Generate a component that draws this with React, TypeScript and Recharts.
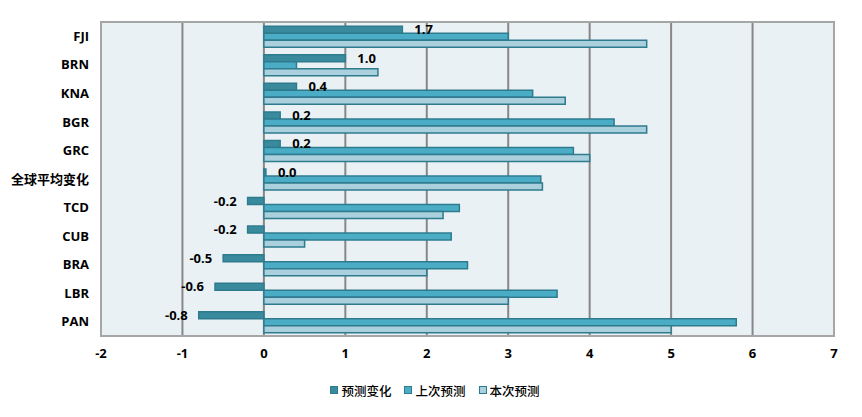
import {
  Bar,
  BarChart,
  CartesianGrid,
  LabelList,
  Legend,
  ReferenceArea,
  XAxis,
  YAxis,
} from "recharts";

const categories = ["FJI", "BRN", "KNA", "BGR", "GRC", "全球平均变化", "TCD", "CUB", "BRA", "LBR", "PAN"];
const changeValues = [1.7, 1.0, 0.4, 0.2, 0.2, 0.0, -0.2, -0.2, -0.5, -0.6, -0.8];
const previousValues = [3.0, 0.4, 3.3, 4.3, 3.8, 3.4, 2.4, 2.3, 2.5, 3.6, 5.8];
const currentValues = [4.7, 1.4, 3.7, 4.7, 4.0, 3.42, 2.2, 0.5, 2.0, 3.0, 5.0];
const xTicks = [-2, -1, 0, 1, 2, 3, 4, 5, 6, 7];

const data = categories.map((name, i) => ({
  name,
  change: changeValues[i],
  previous: previousValues[i],
  current: currentValues[i],
}));

const FONT = '"Open Sans", "Noto Sans CJK SC", sans-serif';
const STROKE = "#2E7B8E";

const SERIES = [
  { key: "change", name: "预测变化", color: "#3A8A9E" },
  { key: "previous", name: "上次预测", color: "#4BACC6" },
  { key: "current", name: "本次预测", color: "#A9D0DC" },
];

// 正值标签放在柱右侧，负值放在左侧
const ChangeLabel = (props: any) => {
  const { x, y, width, height, value } = props;
  const a = Number(x);
  const b = Number(x) + Number(width);
  const positive = Number(value) >= 0;
  const end = positive ? Math.max(a, b) : Math.min(a, b);
  return (
    <text
      x={positive ? end + 12 : end - 11}
      y={Number(y) + Number(height) / 2}
      dy={1}
      textAnchor={positive ? "start" : "end"}
      dominantBaseline="middle"
      fontFamily={FONT}
      fontSize={13}
      fontWeight={700}
      fill="#000"
    >
      {Number(value).toFixed(1)}
    </text>
  );
};

const LegendContent = () => (
  <div
    style={{
      display: "flex",
      justifyContent: "center",
      gap: 13,
      height: 20,
      alignItems: "center",
      paddingLeft: 36,
    }}
  >
    {SERIES.map((s) => (
      <div key={s.key} style={{ display: "flex", alignItems: "center", gap: 3 }}>
        <span
          style={{
            width: 6,
            height: 6,
            background: s.color,
            border: `1.5px solid ${STROKE}`,
            display: "inline-block",
          }}
        />
        <span style={{ color: "#000", fontSize: 12.5, fontFamily: FONT, fontWeight: 500 }}>{s.name}</span>
      </div>
    ))}
  </div>
);

export default function App() {
  return (
    <div style={{ position: "absolute", left: 0, top: 0, background: "#fff" }}>
      <BarChart
        width={862}
        height={417}
        data={data}
        layout="vertical"
        margin={{ top: 22, right: 28, left: 0, bottom: 17 }}
        barCategoryGap="15%"
        barGap={0}
      >
        <CartesianGrid
          horizontal={false}
          fill="#E9F1F5"
          stroke="#878787"
          strokeWidth={2}
          verticalValues={[-1, 0, 1, 2, 3, 4, 5, 6]}
        />
        <XAxis
          type="number"
          domain={[-2, 7]}
          ticks={xTicks}
          interval={0}
          height={44}
          axisLine={{ stroke: "#A6A6A6", strokeWidth: 2 }}
          tickLine={false}
          tickMargin={7}
          tick={{ fill: "#000", fontSize: 13, fontWeight: 700, fontFamily: FONT }}
        />
        <YAxis
          type="category"
          dataKey="name"
          width={101}
          axisLine={false}
          tickLine={false}
          tickMargin={6}
          tick={{ fill: "#000", fontSize: 13, fontWeight: 700, fontFamily: FONT }}
        />
        <ReferenceArea x1={-2} x2={7} fill="none" stroke="#A6A6A6" strokeWidth={2} ifOverflow="visible" />
        <Bar
          dataKey="change"
          name="预测变化"
          fill="#3A8A9E"
          stroke={STROKE}
          strokeWidth={1.5}
          minPointSize={2}
          isAnimationActive={false}
        >
          <LabelList dataKey="change" content={<ChangeLabel />} />
        </Bar>
        <Bar dataKey="previous" name="上次预测" fill="#4BACC6" stroke={STROKE} strokeWidth={1.5} isAnimationActive={false} />
        <Bar dataKey="current" name="本次预测" fill="#A9D0DC" stroke={STROKE} strokeWidth={1.5} isAnimationActive={false} />
        <Legend verticalAlign="bottom" align="center" content={<LegendContent />} />
      </BarChart>
    </div>
  );
}
